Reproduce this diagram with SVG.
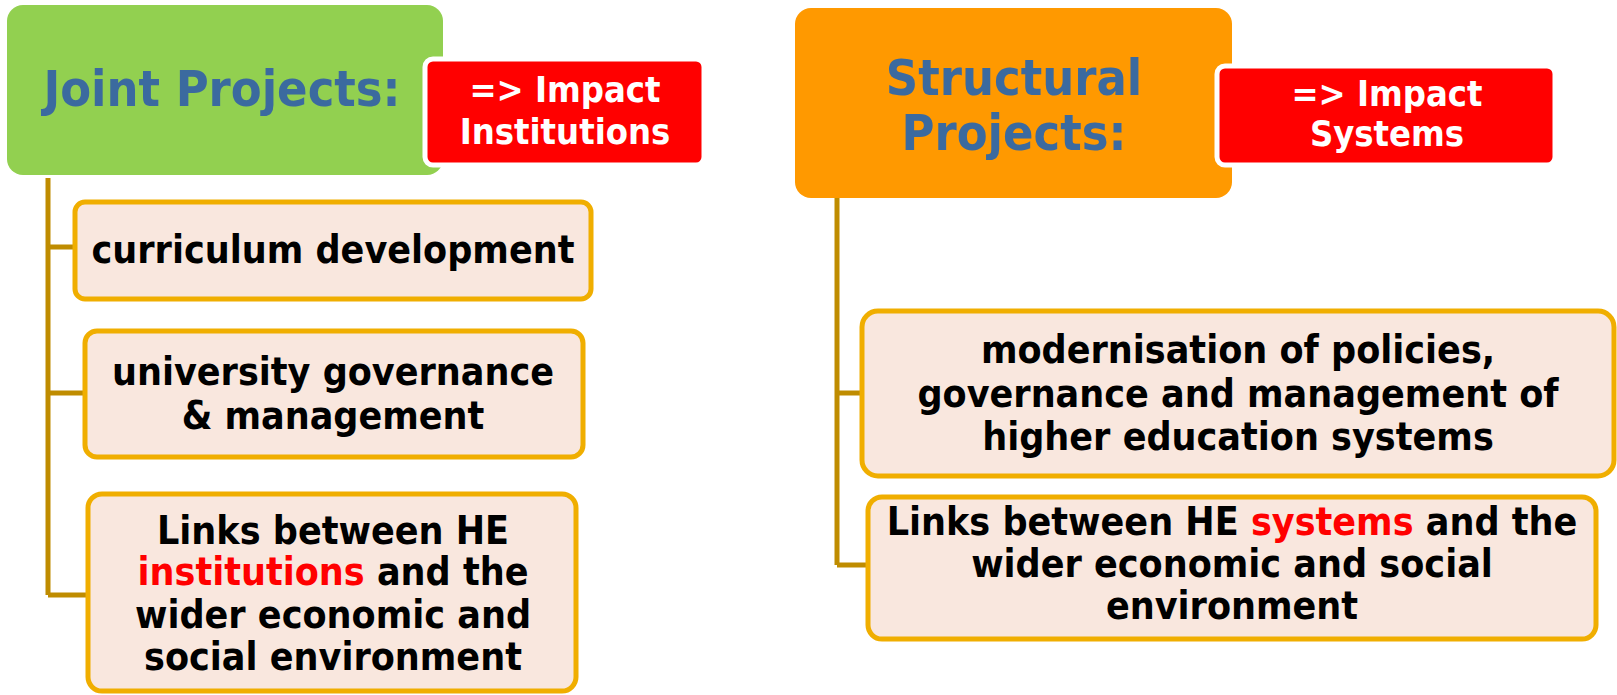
<svg xmlns="http://www.w3.org/2000/svg" width="1617" height="695" viewBox="0 0 1617 695">
<style>
.hdr{font-family:"DejaVu Sans Condensed","DejaVu Sans",sans-serif;font-stretch:condensed;font-weight:bold;font-size:50px;fill:#3B6A9F;text-anchor:middle}
.imp{font-family:"DejaVu Sans Condensed","DejaVu Sans",sans-serif;font-stretch:condensed;font-weight:bold;font-size:36px;fill:#fff;text-anchor:middle}
.box{fill:#F9E7DE;stroke:#F0AE00;stroke-width:5}
.red{fill:#FF0000;stroke:#fff;stroke-width:5}
.txt{font-family:"DejaVu Sans Condensed","DejaVu Sans",sans-serif;font-stretch:condensed;font-weight:bold;font-size:39px;fill:#000;text-anchor:middle}
.hl{fill:#FF0000}
.con{fill:none;stroke:#BF8C00;stroke-width:5}
</style>
<g id="connectors">
<path class="con" d="M48,178 V595 M48,247 H75 M48,393 H85 M48,595 H88"/>
<path class="con" d="M837,198 V565 M837,393 H862 M837,565 H868"/>
</g>
<g id="joint">
<rect x="7" y="5" width="436" height="170" rx="16" fill="#92D050"/>
<text class="hdr" x="222" y="106">Joint Projects:</text>
</g>
<g id="impact-inst">
<rect class="red" x="425" y="59" width="279" height="106" rx="8"/>
<text class="imp" x="565" y="102">=&gt; Impact</text>
<text class="imp" x="565" y="144">Institutions</text>
</g>
<g id="curriculum">
<rect class="box" x="75" y="202" width="516" height="97" rx="10"/>
<text class="txt" x="333" y="263">curriculum development</text>
</g>
<g id="governance">
<rect class="box" x="85" y="331" width="498" height="126" rx="12"/>
<text class="txt" x="333" y="385">university governance</text>
<text class="txt" x="333" y="429">&amp; management</text>
</g>
<g id="links-inst">
<rect class="box" x="88" y="494" width="488" height="197" rx="14"/>
<text class="txt" x="333" y="544">Links between HE</text>
<text class="txt" x="333" y="585"><tspan class="hl">institutions</tspan> and the</text>
<text class="txt" x="333" y="628">wider economic and</text>
<text class="txt" x="333" y="670">social environment</text>
</g>
<g id="structural">
<rect x="795" y="8" width="437" height="190" rx="16" fill="#FF9900"/>
<text class="hdr" x="1014" y="95">Structural</text>
<text class="hdr" x="1014" y="150">Projects:</text>
</g>
<g id="impact-sys">
<rect class="red" x="1217" y="66" width="338" height="99" rx="8"/>
<text class="imp" x="1387" y="106">=&gt; Impact</text>
<text class="imp" x="1387" y="146">Systems</text>
</g>
<g id="modernisation">
<rect class="box" x="862" y="311" width="752" height="165" rx="16"/>
<text class="txt" x="1238" y="363">modernisation of policies,</text>
<text class="txt" x="1238" y="407">governance and management of</text>
<text class="txt" x="1238" y="450">higher education systems</text>
</g>
<g id="links-sys">
<rect class="box" x="868" y="497" width="728" height="142" rx="14"/>
<text class="txt" x="1232" y="535">Links between HE <tspan class="hl">systems</tspan> and the</text>
<text class="txt" x="1232" y="577">wider economic and social</text>
<text class="txt" x="1232" y="619">environment</text>
</g>
</svg>
